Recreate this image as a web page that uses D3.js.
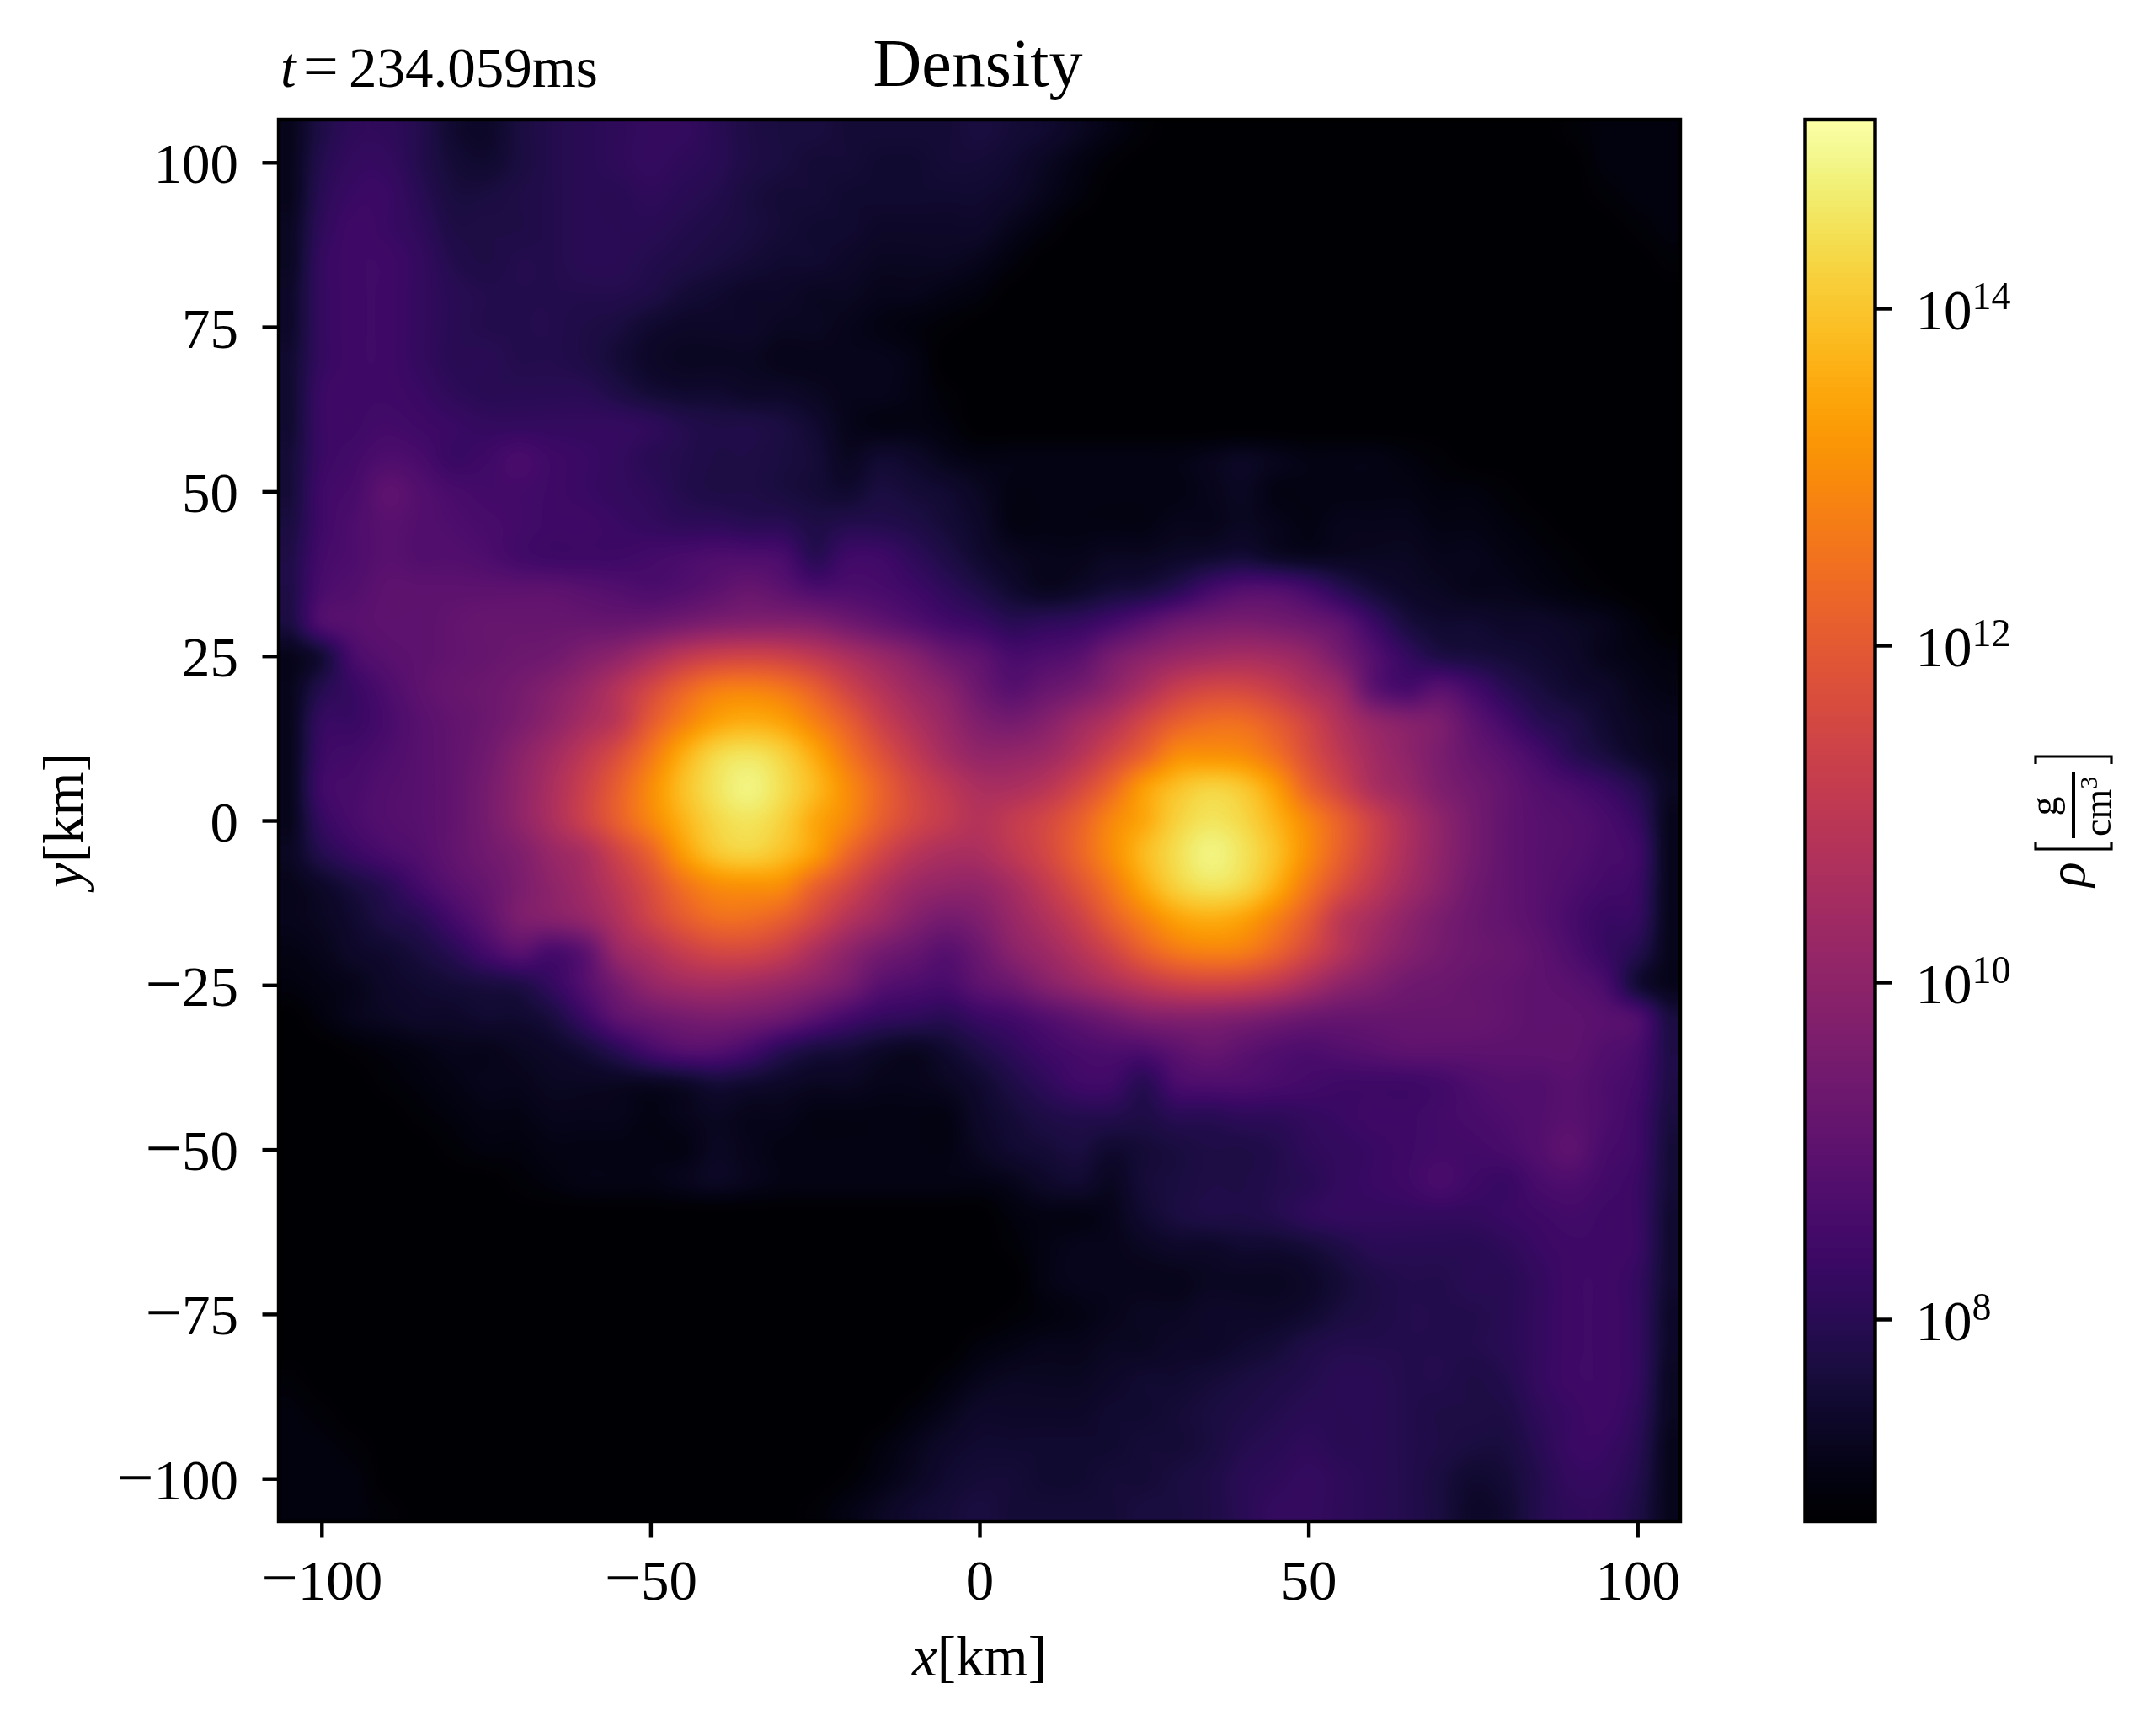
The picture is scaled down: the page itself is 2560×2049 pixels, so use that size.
<!DOCTYPE html>
<html><head><meta charset="utf-8">
<script src="https://cdn.jsdelivr.net/npm/d3@7"></script>
<style>
html,body{margin:0;padding:0;background:#fff;}
#wrap{position:relative;width:2560px;height:2049px;overflow:hidden;}
canvas,svg{position:absolute;left:0;top:0;}
text{font-family:"Liberation Serif","Times New Roman",serif;fill:#000;}
</style></head><body><div id="wrap"></div>
<script>
// Values
const xTicks=[-100,-50,0,50,100];
const yTicks=[-100,-75,-50,-25,0,25,50,75,100];
const cbarTicks=[8,10,12,14];
const gridX=[-105,-100,-95,-90,-85,-80,-75,-70,-65,-60,-55,-50,-45,-40,-35,-30,-25,-20,-15,-10,-5,0,5,10,15,20,25,30,35,40,45,50,55,60,65,70,75,80,85,90,95,100,105];
const gridY=[105,100,95,90,85,80,75,70,65,60,55,50,45,40,35,30,25,20,15,10,5,0,-5,-10,-15,-20,-25,-30,-35,-40,-45,-50,-55,-60,-65,-70,-75,-80,-85,-90,-95,-100,-105];
// log10(density) x 10, one row per gridY value, one column per gridX value
const logRhoTenths=[
[72,78,81,81,79,75,74,77,79,80,81,82,82,80,78,77,77,76,76,76,76,77,76,75,73,71,69,68,68,68,68,68,68,68,68,68,68,68,68,69,70,70,70],
[72,79,82,82,79,76,75,77,79,80,81,82,81,80,78,77,76,76,75,75,76,76,75,73,71,69,68,68,68,68,68,68,68,68,68,68,68,68,68,68,70,70,70],
[72,80,83,83,80,77,77,78,79,80,80,81,80,79,77,76,76,75,75,75,75,75,74,72,70,68,68,68,68,68,68,68,68,68,68,68,68,68,68,68,69,70,70],
[73,81,84,83,81,78,78,78,79,80,80,80,79,78,77,76,75,75,74,74,74,74,72,70,68,68,68,68,68,68,68,68,68,68,68,68,68,68,68,68,68,69,70],
[73,82,84,84,82,79,78,79,79,80,80,79,78,77,76,75,75,74,73,73,73,72,70,68,68,68,68,68,68,68,68,68,68,68,68,68,68,68,68,68,68,68,69],
[74,82,84,84,82,80,79,79,79,79,79,78,76,75,74,74,73,73,72,72,71,70,68,68,68,68,68,68,68,68,68,68,68,68,68,68,68,68,68,68,68,68,68],
[74,82,84,84,82,80,79,79,79,78,77,75,74,74,74,73,73,72,71,70,69,68,68,68,68,68,68,68,68,68,68,68,68,68,68,68,68,68,68,68,68,68,68],
[75,82,84,84,82,80,80,79,79,78,76,74,73,73,73,72,72,72,72,71,68,68,68,68,68,68,68,68,68,68,68,68,68,68,68,68,68,68,68,68,68,68,68],
[75,83,84,84,83,81,80,80,80,80,78,76,75,75,74,74,73,72,72,71,69,68,68,68,68,68,68,68,68,68,68,68,68,68,68,68,68,68,68,68,68,68,68],
[75,83,84,85,84,83,82,82,82,82,82,81,79,78,78,77,75,72,71,71,70,68,68,68,68,68,68,68,68,68,68,68,68,68,68,68,68,68,68,68,68,68,68],
[76,83,85,87,86,83,84,86,84,83,82,80,79,78,78,77,76,73,75,74,72,71,71,71,71,71,71,71,72,73,72,71,71,71,70,69,68,68,68,68,68,68,68],
[76,84,86,90,88,86,85,85,84,83,82,81,79,78,78,77,76,75,77,76,75,73,71,71,71,71,71,71,72,73,71,71,71,71,71,70,70,69,68,68,68,68,68],
[77,84,87,89,88,87,86,85,84,84,83,82,81,81,80,80,78,79,79,78,76,74,71,71,71,71,71,72,72,73,72,71,72,72,72,71,71,70,69,68,68,68,68],
[78,85,87,89,88,88,87,85,84,84,84,85,86,87,87,86,80,84,84,81,78,75,73,72,72,73,73,74,75,76,74,73,73,73,73,72,72,71,70,69,68,68,68],
[78,86,88,90,90,90,90,90,90,89,88,87,88,90,92,90,87,87,86,84,81,78,75,73,74,76,77,80,85,88,88,85,80,76,74,73,72,72,71,70,69,68,68],
[77,87,89,90,90,91,92,92,92,92,92,93,95,97,98,98,97,94,91,88,85,83,80,81,82,85,89,93,95,96,95,93,90,83,77,75,75,74,74,73,72,70,68],
[72,76,86,89,90,91,92,93,94,97,100,105,110,113,114,113,110,106,102,98,93,90,86,87,89,95,99,102,104,105,104,101,95,88,82,78,77,76,75,74,72,71,70],
[72,79,83,87,90,92,93,95,98,102,108,115,122,127,128,126,121,114,108,103,99,93,89,92,95,100,106,112,115,115,112,107,102,90,86,89,85,80,77,75,74,72,71],
[72,82,83,86,89,91,93,96,100,105,110,120,128,134,136,134,128,121,113,107,102,97,95,98,103,108,115,121,124,124,120,114,107,101,98,96,90,85,80,78,75,73,72],
[72,83,85,87,89,91,94,99,104,110,117,126,136,143,145,142,135,126,118,111,105,101,101,103,108,115,122,130,131,130,125,117,110,104,100,96,92,89,85,80,77,74,72],
[72,84,86,88,89,91,95,100,106,113,121,130,139,145,148,144,138,130,122,115,110,106,106,109,115,123,133,139,142,140,133,122,114,106,102,97,94,91,88,86,83,79,73],
[72,82,86,88,89,91,95,100,106,113,121,129,137,143,145,142,135,129,121,115,111,108,111,115,121,129,135,142,145,143,137,129,121,113,106,100,95,91,89,88,86,82,72],
[73,79,83,86,88,91,94,97,102,106,114,122,133,140,142,139,133,123,115,109,106,106,110,115,122,130,138,144,148,145,139,130,121,113,106,100,95,91,89,88,86,84,72],
[72,74,77,80,85,89,92,96,100,104,110,117,125,130,131,130,122,115,108,103,101,101,105,111,118,126,135,142,145,143,136,126,117,110,104,99,94,91,89,87,85,83,72],
[72,73,75,78,80,85,90,96,98,101,107,114,120,124,124,121,115,108,103,98,95,97,102,107,113,121,128,134,136,134,128,120,110,105,100,96,93,91,89,86,83,82,72],
[71,72,74,75,77,80,85,89,86,90,102,107,112,115,115,112,106,100,95,92,89,93,99,103,108,114,121,126,128,127,122,115,108,102,98,95,93,92,90,87,83,79,72],
[70,71,72,74,75,76,77,78,82,88,95,101,104,105,104,102,99,95,89,87,86,90,93,98,102,106,110,113,114,113,110,105,100,97,94,93,92,91,90,89,86,76,72],
[68,70,72,73,74,74,75,75,77,83,90,93,95,96,95,93,89,85,82,81,80,83,85,88,91,94,97,98,98,97,95,93,92,92,92,92,92,91,90,90,89,87,77],
[68,68,69,70,71,72,72,73,74,76,80,85,88,88,85,80,77,76,74,73,75,78,81,84,86,87,87,90,92,90,88,87,88,89,90,90,90,90,90,90,88,86,78],
[68,68,68,69,70,71,72,72,73,73,73,73,74,76,75,74,73,73,72,72,73,75,78,81,84,84,80,86,87,87,86,85,84,84,84,85,87,88,88,89,87,85,78],
[68,68,68,68,69,70,71,71,72,72,72,71,72,73,72,72,71,71,71,71,71,74,76,78,79,79,78,80,80,81,81,82,83,84,84,85,86,87,88,89,87,84,77],
[68,68,68,68,68,69,70,70,71,71,71,71,71,73,72,71,71,71,71,71,71,73,75,76,77,75,76,77,78,78,79,81,82,83,84,85,85,86,88,90,86,84,76],
[68,68,68,68,68,68,68,69,70,71,71,71,72,73,72,71,71,71,71,71,71,71,72,74,75,73,76,77,78,78,79,80,82,83,84,86,84,83,86,87,85,83,76],
[68,68,68,68,68,68,68,68,68,68,68,68,68,68,68,68,68,68,68,68,68,68,70,71,71,72,75,77,78,78,79,81,82,82,82,82,82,83,84,85,84,83,75],
[68,68,68,68,68,68,68,68,68,68,68,68,68,68,68,68,68,68,68,68,68,68,69,71,72,72,73,74,74,75,75,76,78,80,80,80,80,81,83,84,84,83,75],
[68,68,68,68,68,68,68,68,68,68,68,68,68,68,68,68,68,68,68,68,68,68,68,71,72,72,72,72,73,73,73,74,76,78,79,79,80,80,82,84,84,82,75],
[68,68,68,68,68,68,68,68,68,68,68,68,68,68,68,68,68,68,68,68,68,68,69,70,71,72,73,73,74,74,74,75,77,78,79,79,79,80,82,84,84,82,74],
[68,68,68,68,68,68,68,68,68,68,68,68,68,68,68,68,68,68,68,68,68,70,71,72,72,73,73,74,74,75,76,78,79,79,79,79,79,80,82,84,84,82,74],
[69,68,68,68,68,68,68,68,68,68,68,68,68,68,68,68,68,68,68,68,70,72,73,73,73,74,75,75,76,77,78,79,80,80,79,79,78,79,82,84,84,82,73],
[70,69,68,68,68,68,68,68,68,68,68,68,68,68,68,68,68,68,68,70,72,74,74,74,74,75,75,76,77,78,79,80,80,80,79,78,78,78,81,83,84,81,73],
[70,70,69,68,68,68,68,68,68,68,68,68,68,68,68,68,68,68,70,72,74,75,75,75,75,75,76,76,77,79,80,81,80,80,79,78,77,77,80,83,83,80,72],
[70,70,70,68,68,68,68,68,68,68,68,68,68,68,68,68,68,69,71,73,75,76,76,75,75,76,76,77,78,80,81,82,81,80,79,77,75,76,79,82,82,79,72],
[70,70,70,69,68,68,68,68,68,68,68,68,68,68,68,68,69,71,73,75,76,77,76,76,76,76,77,77,78,80,82,82,81,80,79,77,74,75,79,81,81,78,72]
];
logRhoTenths.forEach((r,i)=>{ if(r.length!==gridX.length) throw new Error('row '+i+' has '+r.length); });

const W=2560,H=2049;
const L=331,R=1995,T=142,B=1806;
const CL=2143.5,CR=2226.5;
const x=d3.scaleLinear().domain([-106.5,106.5]).range([L,R]);
const y=d3.scaleLinear().domain([-106.5,106.5]).range([B,T]);
const gx=d3.scaleLinear().domain(d3.extent(gridX)).range([0,gridX.length-1]);
const gy=d3.scaleLinear().domain([gridY[0],gridY[gridY.length-1]]).range([0,gridY.length-1]);
const cmin=6.8,cmax=15.12;
const color=d3.scaleSequential(d3.interpolateInferno).domain([cmin,cmax]);
const cbar=d3.scaleLog().domain([Math.pow(10,cmin),Math.pow(10,cmax)]).range([B,T]);

const wrap=d3.select('#wrap');
const canvas=wrap.append('canvas').attr('width',W).attr('height',H).node();
const ctx=canvas.getContext('2d');

const lutN=2048,lut=new Uint8Array(lutN*3);
for(let i=0;i<lutN;i++){const c=d3.rgb(color(cmin+(cmax-cmin)*i/(lutN-1)));lut[3*i]=c.r;lut[3*i+1]=c.g;lut[3*i+2]=c.b;}
function paint(v,d,o){let t=Math.round((v-cmin)/(cmax-cmin)*(lutN-1));t=Math.max(0,Math.min(lutN-1,t));d[o]=lut[3*t];d[o+1]=lut[3*t+1];d[o+2]=lut[3*t+2];d[o+3]=255;}
function cr(t){const t2=t*t,t3=t2*t;return [0.5*(-t3+2*t2-t),0.5*(3*t3-5*t2+2),0.5*(-3*t3+4*t2+t),0.5*(t3-t2)];}
const n=gridX.length,m=gridY.length;
function at(i,j){i=Math.max(0,Math.min(m-1,i));j=Math.max(0,Math.min(n-1,j));return logRhoTenths[i][j]/10;}
function sample(px,py){
  const u=Math.max(0,Math.min(n-1,gx(px))),v=Math.max(0,Math.min(m-1,gy(py)));
  const j0=Math.floor(u),i0=Math.floor(v),wu=cr(u-j0),wv=cr(v-i0);
  let s=0;
  for(let a=0;a<4;a++)for(let b=0;b<4;b++)s+=wv[a]*wu[b]*at(i0+a-1,j0+b-1);
  return s;
}
const w=R-L,h=B-T;
const img=ctx.createImageData(w,h);
for(let py=0;py<h;py++){const dy=y.invert(T+py+.5);
  for(let px=0;px<w;px++){paint(sample(x.invert(L+px+.5),dy),img.data,4*(py*w+px));}}
ctx.putImageData(img,L,T);
const cw=Math.round(CR-CL),cimg=ctx.createImageData(cw,h);
for(let py=0;py<h;py++){const v=Math.log10(cbar.invert(T+py+.5));
  for(let px=0;px<cw;px++)paint(v,cimg.data,4*(py*cw+px));}
ctx.putImageData(cimg,Math.round(CL),T);

const svg=wrap.append('svg').attr('width',W).attr('height',H);
const SW=4.44,TL=19.5,FS=67;
function styleAxis(g){g.select('.domain').remove();g.selectAll('.tick line').attr('stroke','#000').attr('stroke-width',SW);
  g.selectAll('text').attr('font-family','"Liberation Serif",serif').attr('font-size',FS).attr('fill','#000');}
function signed(sel){sel.each(function(d){const t=d3.select(this).text(null);
  if(d<0)t.append('tspan').attr('font-size',77).text('\u2212');
  t.append('tspan').text(String(Math.abs(d)));});}
svg.append('g').attr('transform',`translate(0,${B})`)
  .call(d3.axisBottom(x).tickValues(xTicks).tickSize(TL)).call(styleAxis)
  .selectAll('text').attr('y',93).attr('dy',null).call(signed);
svg.append('g').attr('transform',`translate(${L},0)`)
  .call(d3.axisLeft(y).tickValues(yTicks).tickSize(TL)).call(styleAxis)
  .selectAll('text').attr('x',-48).attr('dy',24).call(signed);
const cg=svg.append('g').attr('transform',`translate(${CR},0)`)
  .call(d3.axisRight(cbar).tickValues(cbarTicks.map(e=>Math.pow(10,e))).tickSize(TL).tickFormat(()=>'')).call(styleAxis);
cg.selectAll('.tick text').attr('x',48).attr('dy',24).attr('text-anchor','start').each(function(d){
  const t=d3.select(this).text(null);
  t.append('tspan').text('10');
  t.append('tspan').attr('dy',-24).attr('font-size',46).text(String(Math.round(Math.log10(d))));
});
svg.append('rect').attr('x',L).attr('y',T).attr('width',R-L).attr('height',B-T).attr('fill','none').attr('stroke','#000').attr('stroke-width',SW);
svg.append('rect').attr('x',CL).attr('y',T).attr('width',CR-CL).attr('height',B-T).attr('fill','none').attr('stroke','#000').attr('stroke-width',SW);

svg.append('text').attr('x',(L+R)/2-2).attr('y',102).attr('text-anchor','middle').attr('font-size',80).text('Density');
const tl=svg.append('text').attr('y',103).attr('font-size',67);
tl.append('tspan').attr('x',333).attr('font-style','italic').text('t');
tl.append('tspan').attr('x',360).attr('font-size',74).text('=');
tl.append('tspan').attr('x',414).text('234.059ms');
const xl=svg.append('text').attr('x',(L+R)/2).attr('y',1989).attr('text-anchor','middle').attr('font-size',FS);
xl.append('tspan').attr('font-style','italic').text('x');xl.append('tspan').text('[km]');
const yl=svg.append('text').attr('transform',`translate(98,${(T+B)/2}) rotate(-90)`).attr('text-anchor','middle').attr('font-size',FS);
yl.append('tspan').attr('font-style','italic').text('y');yl.append('tspan').text('[km]');
const cl=svg.append('g').attr('transform','translate(2462,1053) rotate(-90)');
cl.append('text').attr('x',0).attr('y',13).attr('font-size',62).attr('font-style','italic').text('\u03c1');
const br=d3.path();
br.moveTo(54,-45);br.lineTo(45,-45);br.lineTo(45,45);br.lineTo(54,45);
br.moveTo(146,-45);br.lineTo(155,-45);br.lineTo(155,45);br.lineTo(146,45);
cl.append('path').attr('d',br.toString()).attr('fill','none').attr('stroke','#000').attr('stroke-width',3.2);
cl.append('line').attr('x1',58).attr('x2',136).attr('y1',0).attr('y2',0).attr('stroke','#000').attr('stroke-width',4);
cl.append('text').attr('x',96).attr('y',-20).attr('text-anchor','middle').attr('font-size',46).text('g');
const cm=cl.append('text').attr('x',60).attr('y',44).attr('font-size',46);
cm.append('tspan').text('cm');
cm.append('tspan').attr('dy',-16).attr('font-size',30).text('3');
</script></body></html>
